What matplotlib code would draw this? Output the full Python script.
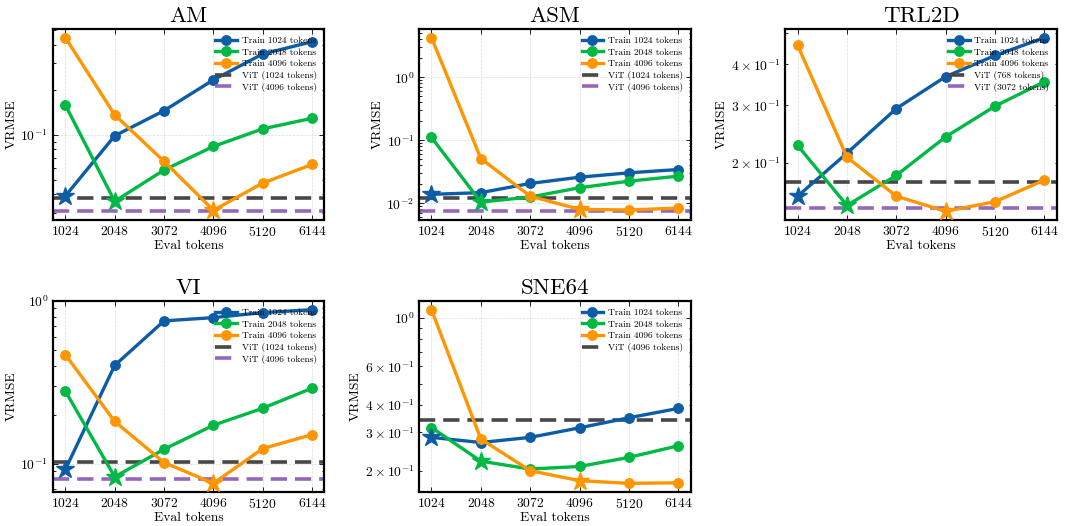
import matplotlib

matplotlib.use("Agg")
import matplotlib.pyplot as plt

plt.rcParams.update({
    "font.family": "serif",
    "font.serif": ["cmr10", "DejaVu Serif"],
    "mathtext.fontset": "cm",
    "axes.formatter.use_mathtext": True,
    "axes.unicode_minus": False,
    "axes.linewidth": 1.6,
    "xtick.direction": "in",
    "ytick.direction": "in",
    "xtick.top": True,
    "ytick.right": True,
    "xtick.major.size": 3.5,
    "ytick.major.size": 3.5,
    "ytick.minor.size": 1.8,
    "ytick.minor.visible": True,
    "xtick.major.width": 0.6,
    "ytick.major.width": 0.6,
    "ytick.minor.width": 0.6,
    "xtick.labelsize": 9.8,
    "ytick.labelsize": 9.8,
    "axes.labelsize": 9.8,
})

eval_tokens = [1024, 2048, 3072, 4096, 5120, 6144]
train_tokens = [1024, 2048, 4096]

am_train1024 = [0.039, 0.0985, 0.145, 0.233, 0.347, 0.419]
am_train2048 = [0.158, 0.0359, 0.0582, 0.0836, 0.1096, 0.129]
am_train4096 = [0.446, 0.136, 0.0664, 0.0313, 0.0476, 0.0634]
am_vit = [0.0376, 0.0308]
am_vit_tokens = [1024, 4096]

asm_train1024 = [0.0139, 0.0148, 0.0207, 0.026, 0.0305, 0.0344]
asm_train2048 = [0.111, 0.0105, 0.0126, 0.0177, 0.0225, 0.027]
asm_train4096 = [4.24, 0.0514, 0.013, 0.00804, 0.00785, 0.00843]
asm_vit = [0.0123, 0.00748]
asm_vit_tokens = [1024, 4096]

trl_train1024 = [0.158, 0.214, 0.293, 0.367, 0.426, 0.483]
trl_train2048 = [0.226, 0.148, 0.183, 0.240, 0.298, 0.354]
trl_train4096 = [0.458, 0.208, 0.158, 0.142, 0.152, 0.177]
trl_vit = [0.175, 0.145]
trl_vit_tokens = [768, 3072]

vi_train1024 = [0.092, 0.402, 0.755, 0.791, 0.849, 0.885]
vi_train2048 = [0.279, 0.0828, 0.1224, 0.172, 0.219, 0.291]
vi_train4096 = [0.467, 0.1815, 0.1014, 0.0755, 0.1236, 0.1507]
vi_vit = [0.1024, 0.0802]
vi_vit_tokens = [1024, 4096]

sne_train1024 = [0.285, 0.270, 0.285, 0.315, 0.350, 0.386]
sne_train2048 = [0.316, 0.222, 0.2045, 0.210, 0.231, 0.261]
sne_train4096 = [1.087, 0.280, 0.201, 0.181, 0.176, 0.177]
sne_vit = [0.343]
sne_vit_tokens = [4096]

datasets = [
    ("AM", [am_train1024, am_train2048, am_train4096], am_vit, am_vit_tokens),
    ("ASM", [asm_train1024, asm_train2048, asm_train4096], asm_vit, asm_vit_tokens),
    ("TRL2D", [trl_train1024, trl_train2048, trl_train4096], trl_vit, trl_vit_tokens),
    ("VI", [vi_train1024, vi_train2048, vi_train4096], vi_vit, vi_vit_tokens),
    ("SNE64", [sne_train1024, sne_train2048, sne_train4096], sne_vit, sne_vit_tokens),
]

train_colors = ["#0C5DA5", "#00B945", "#FF9500"]
vit_colors = ["#474747", "#9467bd"]

fig, axes = plt.subplots(2, 3, figsize=(10.65, 5.26), dpi=100)
fig.subplots_adjust(left=0.0498, right=0.9922, bottom=0.0646, top=0.9449, wspace=0.349, hspace=0.424)

for ax, (name, series, vit, vit_tokens) in zip(axes.flat, datasets):
    for values, train, color in zip(series, train_tokens, train_colors):
        star = eval_tokens.index(train)
        others = [i for i in range(len(eval_tokens)) if i != star]
        ax.plot(eval_tokens, values, color=color, lw=2.4, marker="o", ms=6.8,
                markevery=others, label=f"Train {train} tokens", zorder=3)
        ax.plot(eval_tokens[star], values[star], color=color, marker="*", ms=13.5,
                ls="none", zorder=4)
    for value, tokens, color in zip(vit, vit_tokens, vit_colors):
        ax.axhline(value, color=color, lw=2.6, ls=(0, (4.5, 2.2)),
                   label=f"ViT ({tokens} tokens)", zorder=2)
    ax.set_yscale("log")
    ax.set_xticks(eval_tokens)
    ax.set_title(name, fontsize=16.5, pad=5)
    ax.set_xlabel("Eval tokens", labelpad=1)
    ax.set_ylabel("VRMSE", labelpad=2)
    ax.grid(True, which="major", color="#cccccc", ls="--", lw=0.5, alpha=0.7)
    ax.legend(loc="upper right", fontsize=6.8, frameon=False, handlelength=2.3,
              handletextpad=0.5, labelspacing=0.3, borderaxespad=0.4)

axes[1, 2].axis("off")

fig.savefig("out.png", dpi=100)
